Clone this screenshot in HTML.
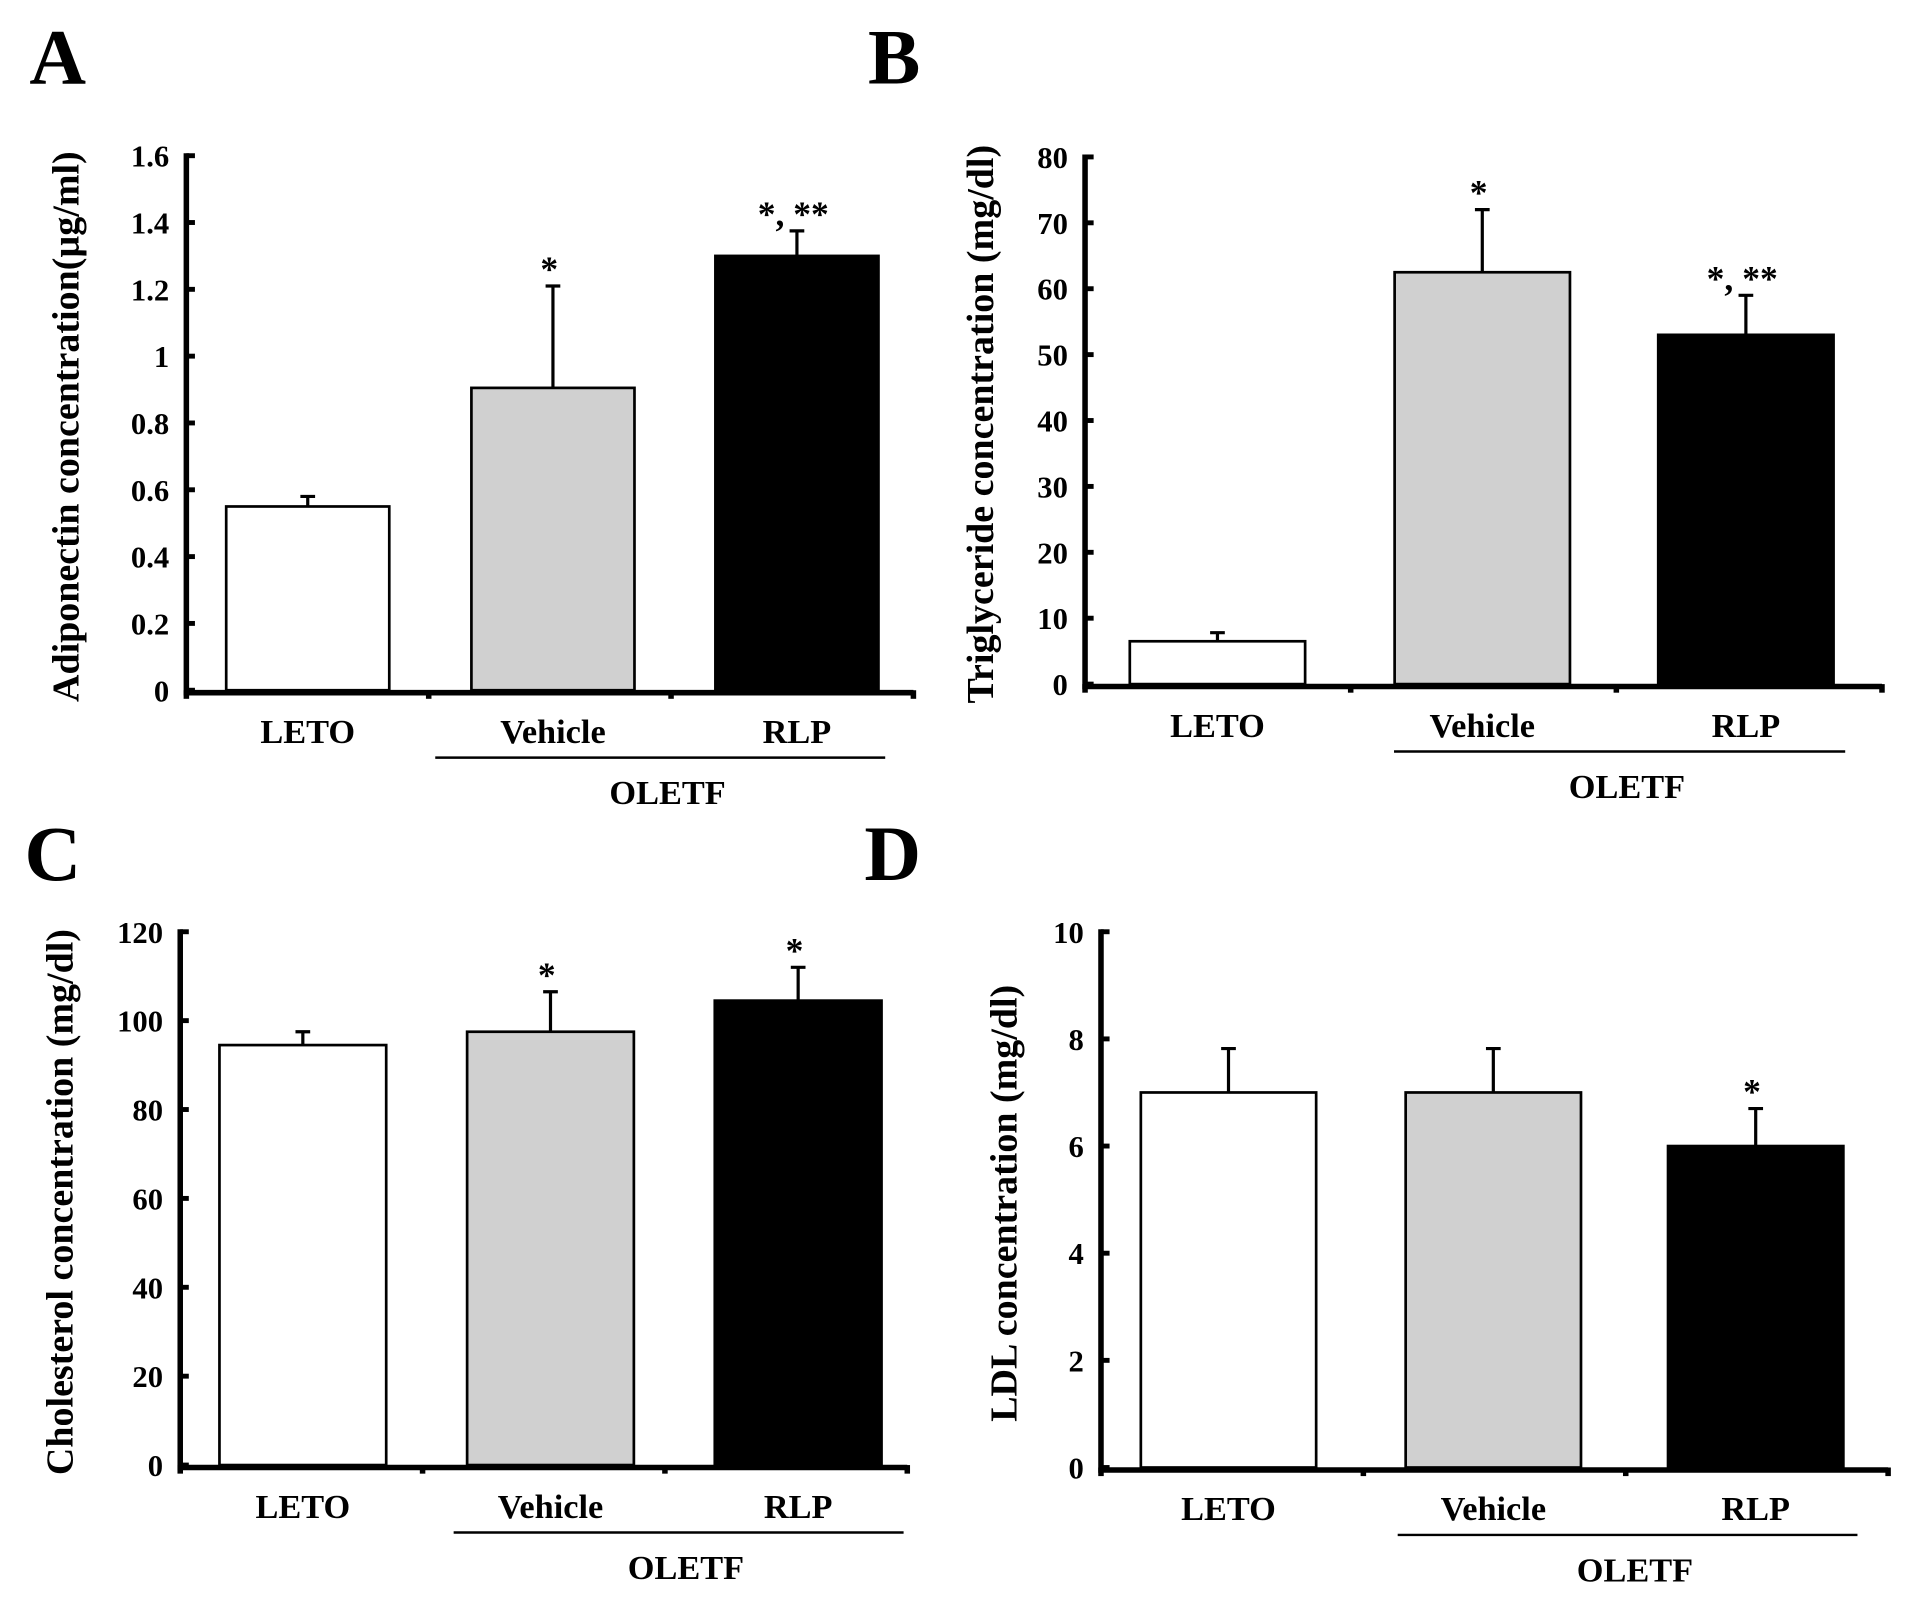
<!DOCTYPE html>
<html><head><meta charset="utf-8"><style>
html,body{margin:0;padding:0;background:#fff;}
svg{display:block;}
text{font-family:"Liberation Serif",serif;font-weight:bold;fill:#000;}
</style></head>
<body>
<svg id="fig" width="1913" height="1602" viewBox="0 0 1560.3 1306.7" preserveAspectRatio="none" xmlns="http://www.w3.org/2000/svg"></svg>
<script>
const categories = ["LETO", "Vehicle", "RLP"];
const fills = ["#ffffff", "#d0d0d0", "#000000"];
const adiponectinValues = [0.55, 0.905, 1.30];
const adiponectinErrors = [0.03, 0.305, 0.075];
const adiponectinTicks = ["0", "0.2", "0.4", "0.6", "0.8", "1", "1.2", "1.4", "1.6"];
const adiponectinStars = ["", "*", "*, **"];
const triglycerideValues = [6.5, 62.5, 53];
const triglycerideErrors = [1.3, 9.5, 6];
const triglycerideTicks = ["0", "10", "20", "30", "40", "50", "60", "70", "80"];
const triglycerideStars = ["", "*", "*, **"];
const cholesterolValues = [94.5, 97.5, 104.5];
const cholesterolErrors = [3, 9, 7.5];
const cholesterolTicks = ["0", "20", "40", "60", "80", "100", "120"];
const cholesterolStars = ["", "*", "*"];
const ldlValues = [7, 7, 6];
const ldlErrors = [0.82, 0.82, 0.7];
const ldlTicks = ["0", "2", "4", "6", "8", "10"];
const ldlStars = ["", "", "*"];

const NS = "http://www.w3.org/2000/svg";
const svg = document.getElementById("fig");
function mk(tag, attrs, parent, txt) {
  const e = document.createElementNS(NS, tag);
  for (const k in attrs) e.setAttribute(k, attrs[k]);
  if (txt !== undefined) e.textContent = txt;
  (parent || svg).appendChild(e);
  return e;
}

function panel(cfg, values, errors, ticks, stars) {
  const g = mk("g", {});
  
  
  const ymax = parseFloat(ticks[ticks.length - 1]);
  const y = v => cfg.y0 - (v / ymax) * (cfg.y0 - cfg.yTop);
  const L = mk("text", {x: cfg.letterX, y: cfg.letterY, "font-size": 64}, g, cfg.letter);
  
  
  const tx = cfg.titleX, ty = (cfg.yTop + cfg.y0) / 2 + 3;
  const T = mk("text", {x: tx, y: ty, "font-size": 31, "text-anchor": "middle", transform: `rotate(-90 ${tx} ${ty})`, "dominant-baseline": "middle"}, g, cfg.title);
  
  
  const bw = cfg.barW;
  values.forEach((v, i) => {
    const cx = cfg.barCx[i];
    const top = y(v);
    const r = mk("rect", {x: cx - bw / 2, y: top, width: bw, height: cfg.y0 - top, fill: fills[i], stroke: "#000", "stroke-width": 2.2}, g);
    
    
    const et = y(v + errors[i]);
    const el = mk("path", {d: `M${cx} ${top} V${et} M${cx - 6} ${et} H${cx + 6}`, stroke: "#000", "stroke-width": 2.6, fill: "none"}, g);
    
    
    if (stars[i]) {
      const s = mk("text", {x: cx - 3, y: et - 4, "font-size": 29, "text-anchor": "middle"}, g, stars[i]);
      
      
    }
    const c = mk("text", {x: cx, y: cfg.y0 + 43, "font-size": 28, "text-anchor": "middle"}, g, categories[i]);
    
    
  });
  const ax = mk("path", {d: `M${cfg.axisX} ${cfg.yTop - 2} V${cfg.y0 + 2} H${cfg.xEnd}`, stroke: "#000", "stroke-width": 4.5, fill: "none"}, g);
  
  
  const step = (cfg.xEnd - cfg.axisX) / 3;
  for (let k = 0; k <= 3; k++) {
    const xx = cfg.axisX + step * k;
    const t = mk("line", {x1: xx, x2: xx, y1: cfg.y0, y2: cfg.y0 + 7, stroke: "#000", "stroke-width": 4.5}, g);
    
    
  }
  ticks.forEach(tl => {
    const yy = y(parseFloat(tl));
    const t = mk("line", {x1: cfg.axisX, x2: cfg.axisX + 7, y1: yy, y2: yy, stroke: "#000", "stroke-width": 4}, g);
    
    
    const lbl = mk("text", {x: cfg.axisX - 14, y: yy + 9, "font-size": 25, "text-anchor": "end"}, g, tl);
    
    
  });
  const ol = mk("line", {x1: cfg.oletfX1, x2: cfg.oletfX2, y1: cfg.y0 + 55, y2: cfg.y0 + 55, stroke: "#000", "stroke-width": 2}, g);
  
  
  const ot = mk("text", {x: (cfg.oletfX1 + cfg.oletfX2) / 2 + 6, y: cfg.y0 + 93, "font-size": 28, "text-anchor": "middle"}, g, "OLETF");
  
  
}

panel({id: "adiponectin", letter: "A", letterX: 24, letterY: 68, title: "Adiponectin concentration(\u00b5g/ml)", titleX: 57,
  axisX: 152, yTop: 127, y0: 563, xEnd: 745, barW: 133, barCx: [251, 451, 650], oletfX1: 355, oletfX2: 722},
  adiponectinValues, adiponectinErrors, adiponectinTicks, adiponectinStars);
panel({id: "triglyceride", letter: "B", letterX: 708, letterY: 68, title: "Triglyceride concentration (mg/dl)", titleX: 803,
  axisX: 885, yTop: 128, y0: 558, xEnd: 1535, barW: 143, barCx: [996, 1212, 1427].map(v => v - 3), oletfX1: 1137, oletfX2: 1505},
  triglycerideValues, triglycerideErrors, triglycerideTicks, triglycerideStars);
panel({id: "cholesterol", letter: "C", letterX: 20, letterY: 718, title: "Cholesterol concentration (mg/dl)", titleX: 52,
  axisX: 147, yTop: 760, y0: 1195, xEnd: 740, barW: 136, barCx: [247, 449, 651], oletfX1: 370, oletfX2: 737},
  cholesterolValues, cholesterolErrors, cholesterolTicks, cholesterolStars);
panel({id: "ldl", letter: "D", letterX: 705, letterY: 718, title: "LDL concentration (mg/dl)", titleX: 822,
  axisX: 898, yTop: 760, y0: 1197, xEnd: 1540, barW: 143, barCx: [1006, 1222, 1436].map(v => v - 4), oletfX1: 1140, oletfX2: 1515},
  ldlValues, ldlErrors, ldlTicks, ldlStars);
</script>
</body></html>
